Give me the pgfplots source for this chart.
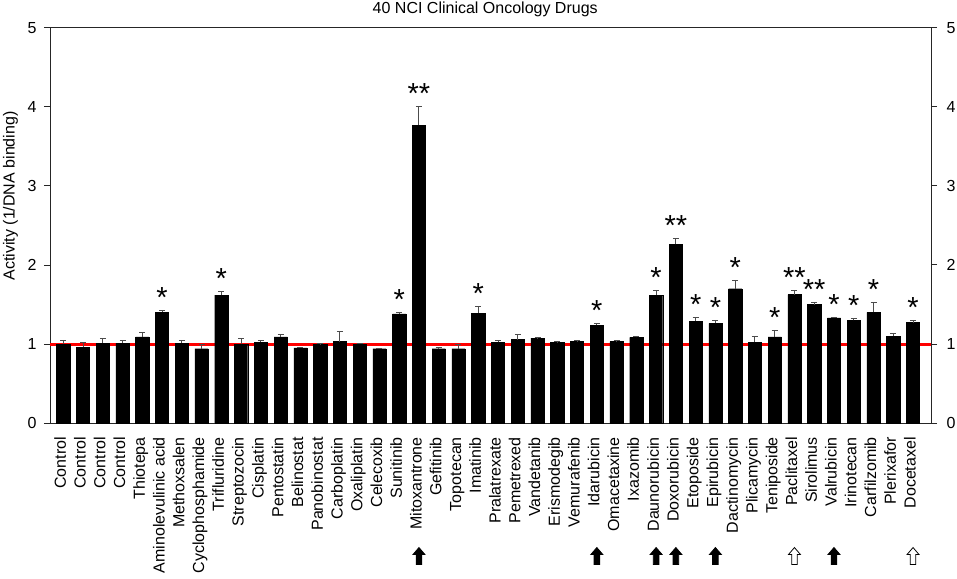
\documentclass[border=0pt]{standalone}
\usepackage{pgfplots}
\usepackage{pgfplotstable}
\pgfplotsset{compat=1.18}
\usepackage{fontspec}
\setmainfont{Liberation Sans}

\pgfdeclareplotmark{uparrow}{%
 \pgfpathmoveto{\pgfqpoint{0pt}{8.5pt}}%
 \pgfpathlineto{\pgfqpoint{6pt}{1.5pt}}%
 \pgfpathlineto{\pgfqpoint{2.8pt}{1.5pt}}%
 \pgfpathlineto{\pgfqpoint{2.8pt}{-8.5pt}}%
 \pgfpathlineto{\pgfqpoint{-2.8pt}{-8.5pt}}%
 \pgfpathlineto{\pgfqpoint{-2.8pt}{1.5pt}}%
 \pgfpathlineto{\pgfqpoint{-6pt}{1.5pt}}%
 \pgfpathclose
 \pgfusepathqfillstroke}

\pgfplotstableread{
x y e
0 1.00 0.04
1 0.96 0.06
2 1.01 0.06
3 1.01 0.03
4 1.09 0.05
5 1.405 0.025
6 1.01 0.03
7 0.94 0.05
8 1.62 0.05
9 1.00 0.07
10 1.025 0.015
11 1.09 0.03
12 0.95 0.01
13 0.995 0.01
14 1.03 0.13
15 1.00 0.01
16 0.94 0
17 1.38 0.025
18 3.77 0.23
19 0.94 0.01
20 0.94 0.05
21 1.39 0.08
22 1.02 0.02
23 1.055 0.065
24 1.075 0.005
25 1.02 0.01
26 1.03 0.02
27 1.24 0.02
28 1.03 0.01
29 1.085 0.01
30 1.62 0.06
31 2.26 0.08
32 1.29 0.05
33 1.26 0.035
34 1.70 0.10
35 1.025 0.065
36 1.09 0.075
37 1.625 0.055
38 1.50 0.02
39 1.33 0
40 1.30 0.02
41 1.40 0.12
42 1.10 0.03
43 1.27 0.03
}\bars

\pgfplotstableread{
x y s
5 1.43 *
8 1.67 *
17 1.405 *
18 4.00 **
21 1.47 *
27 1.26 *
30 1.68 *
31 2.34 **
32 1.34 *
33 1.295 *
34 1.80 *
36 1.165 *
37 1.68 **
38 1.52 **
39 1.33 *
40 1.32 *
41 1.52 *
43 1.30 *
}\stars

\pgfplotstableread{
x y
18 -1.684
27 -1.684
30 -1.684
31 -1.684
33 -1.684
39 -1.684
}\fullarrows

\pgfplotstableread{
x y
37 -1.684
43 -1.684
}\openarrows

\begin{document}
\begin{tikzpicture}[font=\fontsize{16}{19}\selectfont]
\useasboundingbox (-50pt,-155pt) rectangle (907pt,423pt);
\begin{axis}[
  scale only axis, width=881pt, height=395pt,
  at={(0,0)}, anchor=south west,
  xmin=-0.67, xmax=43.91, ymin=0, ymax=5,
  clip=false,
  axis line style={black!85, line width=1pt},
  xtick={0,...,43},
  xticklabels={Control,Control,Control,Control,Thiotepa,Aminolevulinic acid,Methoxsalen,Cyclophosphamide,Trifluridine,Streptozocin,Cisplatin,Pentostatin,Belinostat,Panobinostat,Carboplatin,Oxaliplatin,Celecoxib,Sunitinib,Mitoxantrone,Gefitinib,Topotecan,Imatinib,Pralatrexate,Pemetrexed,Vandetanib,Erismodegib,Vemurafenib,Idarubicin,Omacetaxine,Ixazomib,Daunorubicin,Doxorubicin,Etoposide,Epirubicin,Dactinomycin,Plicamycin,Teniposide,Paclitaxel,Sirolimus,Valrubicin,Irinotecan,Carfilzomib,Plerixafor,Docetaxel},
  major x tick style={draw=none},
  xticklabel style={rotate=90, anchor=mid east, inner sep=0pt, font=\fontsize{16}{19}\selectfont},
  xticklabel shift=8pt,
  ytick={0,...,5},
  ytick pos=left,
  yticklabel style={xshift=-4pt},
  tick align=outside,
  major tick length=6pt,
  major y tick style={black!85, line width=1pt},
  /pgf/number format/assume math mode=true,
  ylabel={Activity (1/DNA binding)},
  ylabel style={at={(axis description cs:-0.0534,0.575)}, anchor=north, rotate=0, inner sep=0pt},
  title={40 NCI Clinical Oncology Drugs},
  every axis title/.style={at={(axis description cs:0.494,1)}, anchor=base, yshift=14pt, inner sep=0pt},
]
\addplot[red, line width=3pt, forget plot] coordinates {(-0.67,1) (43.91,1)};
\addplot[ybar, bar width=0.67, fill=black, draw=black,
  error bars/.cd, y dir=plus, y explicit,
  error bar style={black!70, line width=1pt},
  error mark options={rotate=90, mark size=3pt, black!70, line width=1pt}]
  table[x=x, y=y, y error=e] {\bars};
\addplot[draw=none, mark=none, nodes near coords, point meta=explicit symbolic,
  nodes near coords style={anchor=base, yshift=3pt, inner sep=0pt, font=\fontsize{29}{30}\selectfont}]
  table[x=x, y=y, meta=s] {\stars};
\addplot[only marks, mark=uparrow, mark options={fill=black, draw=black, line width=0.8pt}]
  table[x=x, y=y] {\fullarrows};
\addplot[only marks, mark=uparrow, mark options={fill=white, draw=black, line width=0.8pt}]
  table[x=x, y=y] {\openarrows};
\end{axis}
\begin{axis}[
  scale only axis, width=881pt, height=395pt,
  at={(0,0)}, anchor=south west,
  xmin=-0.67, xmax=43.91, ymin=0, ymax=5,
  axis x line=none, axis y line*=right,
  axis line style={black!85, line width=1pt},
  ytick={0,...,5},
  yticklabel style={xshift=6pt},
  tick align=outside,
  major tick length=6pt,
  major y tick style={black!85, line width=1pt},
  /pgf/number format/assume math mode=true,
]
\addplot[draw=none] coordinates {(0,0)};
\end{axis}
\end{tikzpicture}
\end{document}
